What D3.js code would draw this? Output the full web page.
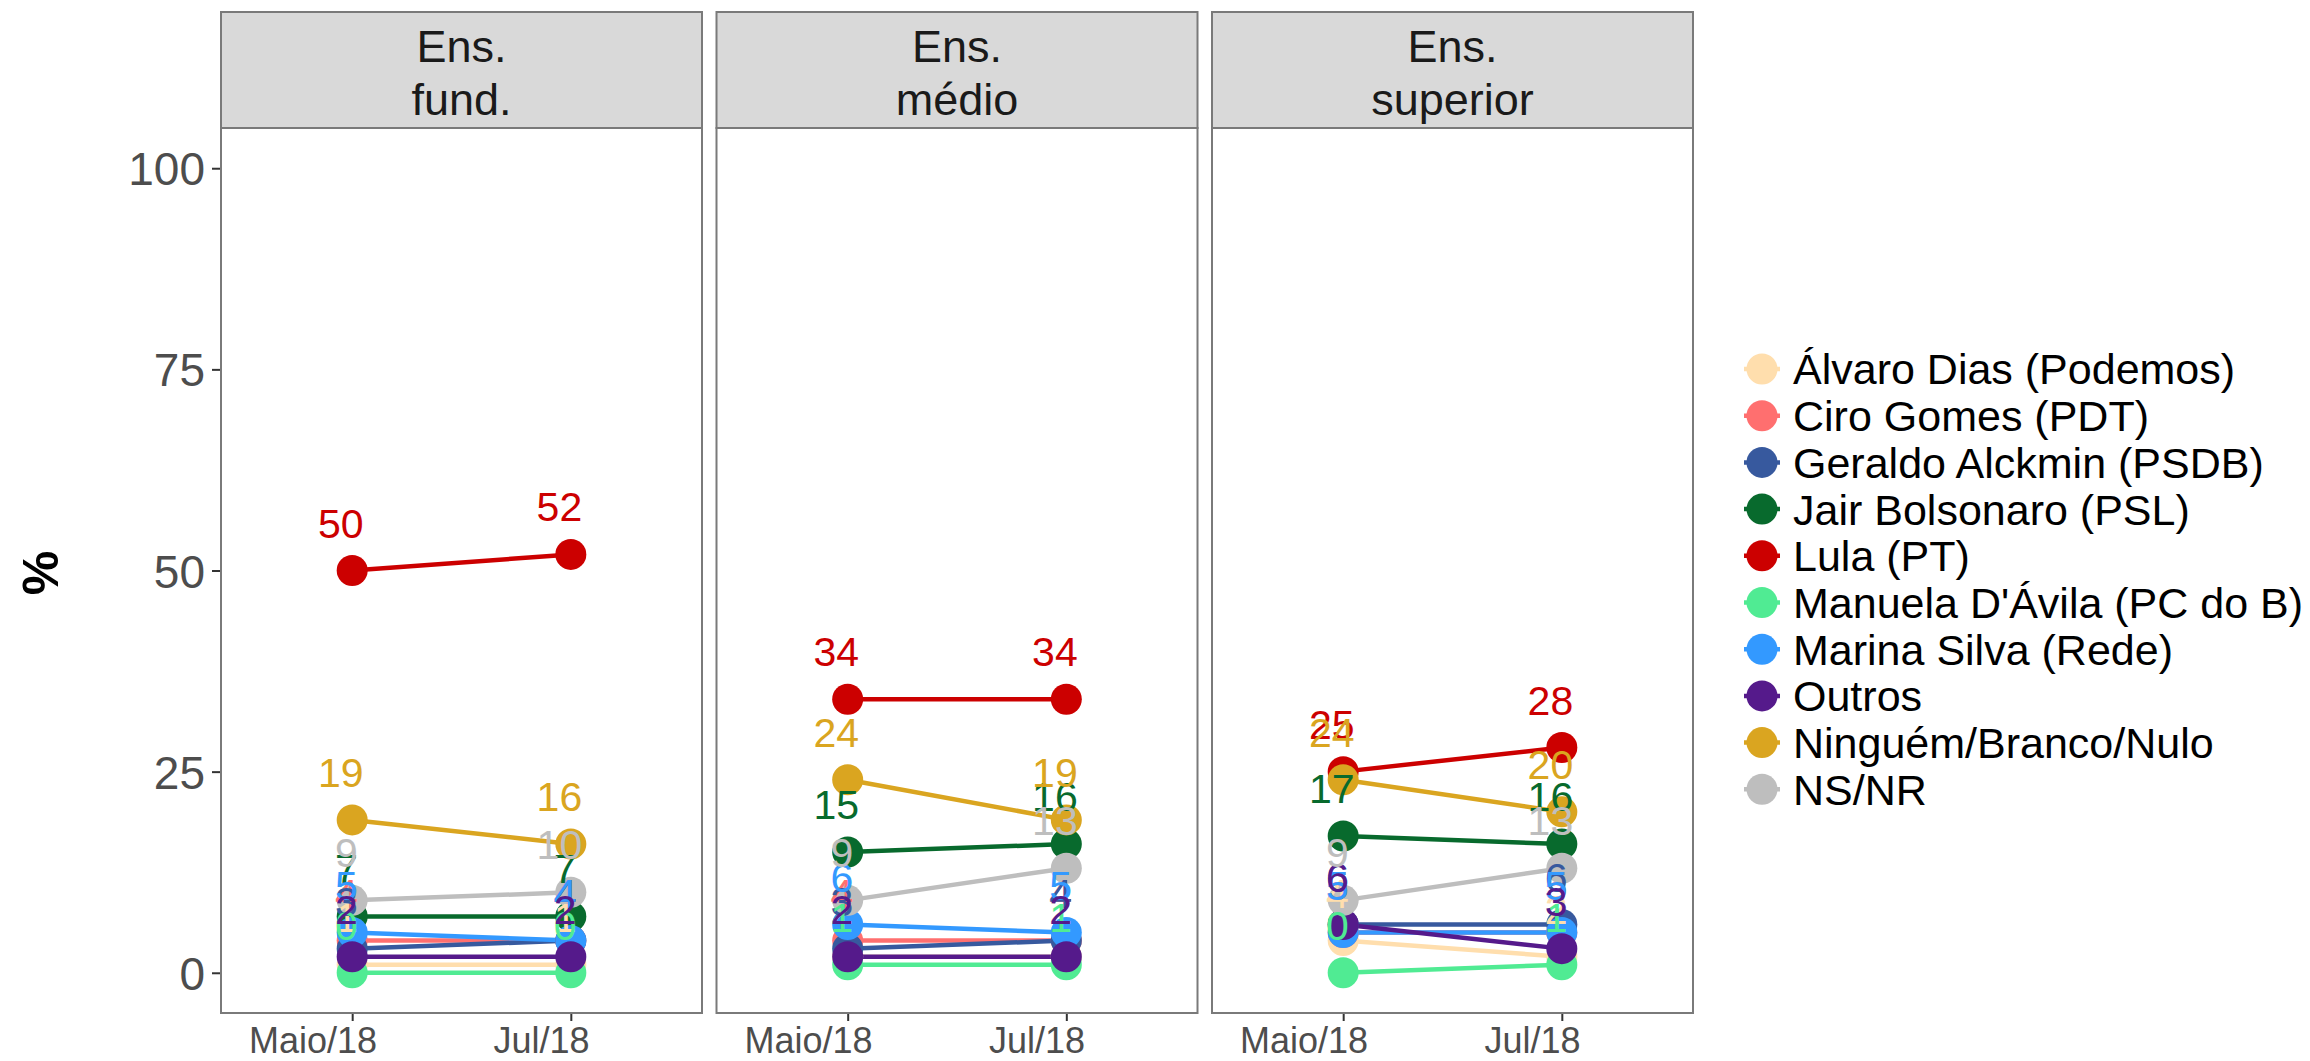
<!DOCTYPE html>
<html><head><meta charset="utf-8">
<script src="https://cdn.jsdelivr.net/npm/d3@7"></script>
<style>body{margin:0;background:#fff;} text{font-family:"Liberation Sans",Arial,sans-serif;}</style>
</head><body>
<svg id="chart" width="2310" height="1061"></svg>
<script>
// ---- data ----
const categories = ["Maio/18", "Jul/18"];
const panelTitles = [["Ens.", "fund."], ["Ens.", "médio"], ["Ens.", "superior"]];
const seriesNames = ["Álvaro Dias (Podemos)", "Ciro Gomes (PDT)", "Geraldo Alckmin (PSDB)", "Jair Bolsonaro (PSL)", "Lula (PT)", "Manuela D'Ávila (PC do B)", "Marina Silva (Rede)", "Outros", "Ninguém/Branco/Nulo", "NS/NR"];
const seriesColors = ["#FFDEAD", "#FF6F6F", "#37599E", "#086A2D", "#CC0000", "#50EB93", "#3399FF", "#551A8B", "#DAA520", "#BEBEBE"];
// values per panel, one entry per series (same order as seriesNames)
const fundMaio = [1, 4, 3, 7, 50, 0, 5, 2, 19, 9];
const fundJul  = [1, 4, 4, 7, 52, 0, 4, 2, 16, 10];
const medioMaio = [2, 4, 3, 15, 34, 1, 6, 2, 24, 9];
const medioJul  = [2, 4, 4, 16, 34, 1, 5, 2, 19, 13];
const superiorMaio = [4, 5, 6, 17, 25, 0, 5, 6, 24, 9];
const superiorJul  = [2, 5, 6, 16, 28, 1, 5, 3, 20, 13];
const yTicks = [0, 25, 50, 75, 100];
const yLabel = "%";

const panelData = [[fundMaio, fundJul], [medioMaio, medioJul], [superiorMaio, superiorJul]];

// ---- layout ----
const svg = d3.select("#chart");
const panelW = 481, panelGap = 14.5, firstLeft = 221;
const stripTop = 12, plotTop = 128, plotBottom = 1013;
const borderColor = "#7a7a7a";

const y = d3.scaleLinear().domain([-5, 105]).range([plotBottom, plotTop]);
const xPanel = d3.scalePoint().domain(categories).range([0, panelW]).padding(0.6);

panelData.forEach((pd, pi) => {
  const left = firstLeft + pi * (panelW + panelGap);
  const g = svg.append("g").attr("transform", `translate(${left},0)`);

  // strip
  g.append("rect").attr("x", 0).attr("y", stripTop).attr("width", panelW).attr("height", plotTop - stripTop)
    .attr("fill", "#D9D9D9").attr("stroke", borderColor).attr("stroke-width", 2);
  const st = g.append("text").attr("text-anchor", "middle").attr("font-size", 45).attr("fill", "#1A1A1A");
  panelTitles[pi].forEach((ln, li) => {
    st.append("tspan").attr("x", panelW / 2).attr("y", 62 + li * 53).text(ln);
  });

  // panel background
  g.append("rect").attr("x", 0).attr("y", plotTop).attr("width", panelW).attr("height", plotBottom - plotTop)
    .attr("fill", "#fff").attr("stroke", "none");

  // x axis
  const xa = g.append("g").attr("transform", `translate(0,${plotBottom})`)
    .call(d3.axisBottom(xPanel).tickSize(8).tickSizeOuter(0));
  xa.select(".domain").remove();
  xa.selectAll(".tick line").attr("stroke", "#333").attr("stroke-width", 2);
  xa.selectAll(".tick text").attr("font-size", 36).attr("fill", "#4D4D4D").attr("y", 0).attr("dy", 40)
    .attr("text-anchor", "start")
    .each(function () {
      const w = this.getComputedTextLength();
      d3.select(this).attr("x", -0.81 * w);
    });

  // y axis on first panel
  if (pi === 0) {
    const ya = g.append("g").call(d3.axisLeft(y).tickValues(yTicks).tickSize(9).tickSizeOuter(0).tickPadding(7));
    ya.select(".domain").remove();
    ya.selectAll(".tick line").attr("stroke", "#333").attr("stroke-width", 2);
    ya.selectAll(".tick text").attr("font-size", 46).attr("fill", "#4D4D4D").attr("dy", "0.36em");
  }

  const series = seriesNames.map((name, si) => ({
    name, color: seriesColors[si],
    pts: categories.map((c, ci) => ({ c, v: pd[ci][si] }))
  }));

  const line = d3.line().x(d => xPanel(d.c)).y(d => y(d.v));
  g.selectAll("path.ln").data(series).join("path").attr("class", "ln")
    .attr("d", d => line(d.pts)).attr("fill", "none").attr("stroke", d => d.color).attr("stroke-width", 4.5);

  series.forEach(s => {
    g.selectAll(null).data(s.pts).join("circle")
      .attr("cx", d => xPanel(d.c)).attr("cy", d => y(d.v)).attr("r", 15.5).attr("fill", s.color);
  });

  series.forEach(s => {
    g.selectAll(null).data(s.pts).join("text")
      .attr("y", d => y(d.v) - 33).attr("font-size", 41).attr("fill", s.color)
      .attr("text-anchor", "start").text(d => d.v)
      .each(function (d) {
        const w = this.getComputedTextLength();
        d3.select(this).attr("x", xPanel(d.c) - 0.75 * w);
      });
  });

  // border
  g.append("rect").attr("x", 0).attr("y", plotTop).attr("width", panelW).attr("height", plotBottom - plotTop)
    .attr("fill", "none").attr("stroke", borderColor).attr("stroke-width", 2);
});

// y label
svg.append("text").attr("transform", "translate(58,573) rotate(-90)").attr("text-anchor", "middle")
  .attr("font-size", 50).attr("font-weight", "bold").attr("fill", "#000").text(yLabel);

// legend
const lg = svg.append("g").attr("transform", "translate(1762,369)");
const rowH = 46.7;
seriesNames.forEach((name, i) => {
  const r = lg.append("g").attr("transform", `translate(0,${i * rowH})`);
  r.append("line").attr("x1", -18).attr("x2", 18).attr("y1", 0).attr("y2", 0)
    .attr("stroke", seriesColors[i]).attr("stroke-width", 4.5);
  r.append("circle").attr("r", 15.5).attr("fill", seriesColors[i]);
  r.append("text").attr("x", 31).attr("dy", "0.36em").attr("font-size", 43).attr("fill", "#000").text(name);
});
</script>
</body></html>
